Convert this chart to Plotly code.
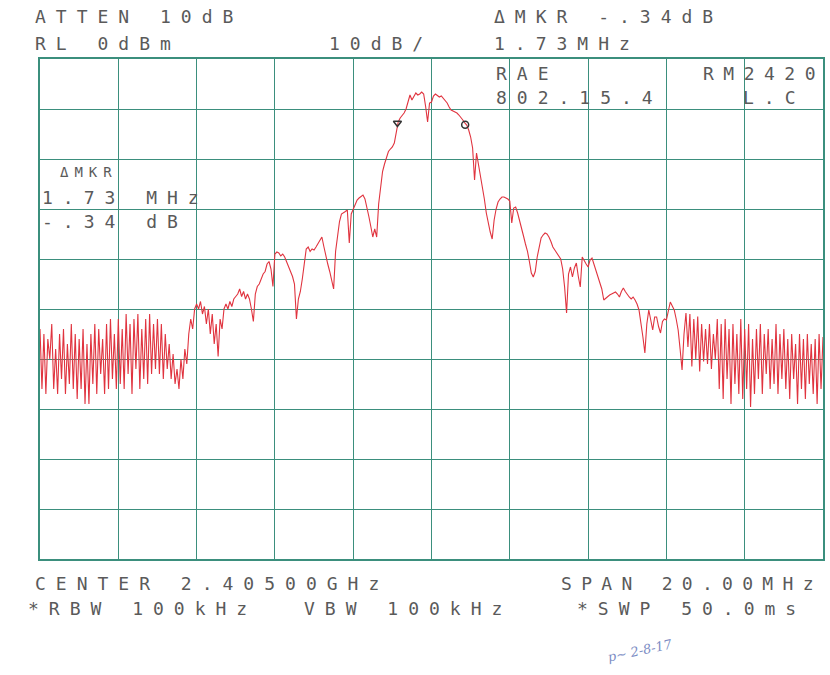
import numpy as np
import plotly.graph_objects as go

# ---------------- data ----------------
START_MHZ = 2395.0
STOP_MHZ = 2415.0
N_POINTS = 401  # analyzer sweep points

trace_dbm = [
    # 2395-2396 MHz
    -54, -66, -55, -67, -56, -60, -53, -66, -58, -67, -55, -64, -54, -67, -57, -65, -53, -66, -55, -68,
    # 2396-2397
    -56, -66, -54, -69, -57, -69, -55, -65, -53, -67, -54, -63, -56, -67, -53, -66, -52, -64, -55, -66,
    # 2397-2398
    -52, -65, -54, -66, -51, -63, -53, -67, -52, -62, -51, -66, -54, -64, -52, -65, -51, -63, -53, -62,
    # 2398-2399
    -52, -63, -53, -64, -55, -62, -57, -64, -59, -65, -62, -66, -60, -64, -58, -61, -55, -52, -54, -50,
    # 2399-2400
    -49, -50, -48.5, -51, -49.5, -53, -50, -55, -51, -57, -53, -59.5, -52, -54, -50, -49, -50, -48.5, -49.5, -48,
    # 2400-2401
    -47.5, -47, -46, -47.5, -46.5, -48, -47, -48, -50, -52.5, -47, -45.5, -45, -44, -43, -42.5, -41, -40.5, -42, -45.5,
    # 2401-2402
    -39, -38.6, -38.8, -39.4, -39, -39.6, -40.5, -41.5, -42.5, -43.5, -45, -52, -48, -46.5, -44, -40.5, -38, -37.6, -38.5, -38,
    # 2402-2403
    -38.2, -37.6, -37, -36.4, -35.6, -37.5, -39.5, -41, -42.5, -44, -46, -38.5, -35.5, -32.5, -31, -30.8, -30.5, -30.2, -36.8, -31,
    # 2403-2404
    -30, -29, -28.2, -27.8, -27.5, -27.2, -28, -29.5, -31.5, -33.5, -35.6, -34, -35.6, -29, -26, -22.5, -21, -19.5, -18.5, -18,
    # 2404-2405
    -17.6, -16.8, -14.5, -12.6, -11.8, -11.3, -10.8, -10, -8.8, -7.2, -8.2, -7.4, -6.8, -7.2, -7.0, -6.6, -7.0, -9.5, -12.6, -8.8,
    # 2405-2406
    -8.6, -7.4, -7.0, -7.3, -7.6, -7.4, -7.8, -8.2, -8.8, -9.6, -10.2, -10.4, -10.6, -10.8, -11.2, -11.6, -12.2, -12.8, -13.2, -14.2,
    # 2406-2407
    -15.6, -17.8, -24.2, -18.8, -21, -23.2, -25.6, -28, -30.8, -33, -34.6, -36, -32.2, -30, -28.6, -28, -27.6, -27.6, -27.8, -28,
    # 2407-2408
    -28.4, -32.8, -29.8, -29.6, -30.8, -32.2, -33.8, -35.4, -37, -38.4, -40.5, -42.8, -43.6, -42.5, -39.6, -37.5, -35.8, -35.2, -34.8, -35,
    # 2408-2409
    -35.6, -36.5, -37.6, -38.2, -38.8, -39.2, -40, -42, -45.6, -50.8, -43, -41.6, -43.6, -41.8, -40.8, -43.5, -45.6, -39.6, -40.4, -41,
    # 2409-2410
    -41.6, -40.2, -39.8, -41, -42.2, -43.2, -44.4, -46, -48.2, -47.8, -47.6, -47.2, -47, -46.8, -46.6, -47, -47.6, -46.5, -45.8, -46.5,
    # 2410-2411
    -47.2, -47.6, -48, -47.6, -48.2, -49, -50.2, -53.5, -55.6, -58.8, -53, -50.2, -52.5, -54.2, -51.6, -51.6, -53.5, -54.8, -52.5, -52,
    # 2411-2412
    -52.2, -50, -48.6, -49.4, -50.2, -52, -54.2, -58, -62.2, -55, -50.8, -57.6, -51, -61.5, -52, -60, -51.5, -62.5, -53, -60.5,
    # 2412-2413
    -54, -61, -53, -62, -55, -60, -52, -66, -53, -68, -52, -64, -54, -69, -53, -65, -55, -67, -52, -68,
    # 2413-2414
    -54, -66, -53, -69.6, -56, -67, -54, -64, -53, -67, -55, -63, -54, -66, -56, -65, -53, -67, -55, -64,
    # 2414-2415
    -54, -66, -56, -68, -55, -64, -57, -69, -55, -66, -56, -68, -55, -65, -57, -67, -56, -69, -55, -66,
    -55.6,
]

marker_mhz = [2404.13, 2405.86]
marker_dbm = [-12.8, -13.14]
marker_symbols = ["triangle-down-open", "circle-open"]

header_left = ["ATTEN 10dB", "RL 0dBm"]
scale_label = "10dB/"
header_right = ["\u0394MKR -.34dB", "1.73MHz"]
inset_left = ["RAE", "802.15.4"]
inset_right = ["RM2420", "L.C"]
delta_box = ["\u0394MKR", "1.73 MHz", "-.34 dB"]
footer = ["CENTER 2.40500GHz", "SPAN 20.00MHz", "*RBW 100kHz", "VBW 100kHz", "*SWP 50.0ms"]
signature = "p\u223c 2-8-17"

freq_mhz = np.linspace(START_MHZ, STOP_MHZ, N_POINTS)

# ---------------- figure ----------------
W, H = 830, 675
L, R, T, B = 40, 5, 59, 116
PW, PH = W - L - R, H - T - B

GRID = "#3b8f7d"
TEXT = "#5a5a5a"
FONT = "DejaVu Sans Mono"

fig = go.Figure()
fig.add_trace(go.Scatter(
    x=freq_mhz, y=trace_dbm, mode="lines",
    line=dict(color="#e0343f", width=1.1), hoverinfo="skip", showlegend=False,
))
fig.add_trace(go.Scatter(
    x=marker_mhz, y=marker_dbm, mode="markers",
    marker=dict(symbol=marker_symbols, size=7, color="#333333", line=dict(width=1.5, color="#333333")),
    showlegend=False, hoverinfo="skip",
))


def px2paper(px, py):
    return (px - L) / PW, (H - B - py) / PH


def label(text, px, py, anchor="left", size=18, ls=10, color=TEXT):
    x, y = px2paper(px, py)
    fig.add_annotation(
        x=x, y=y, xref="paper", yref="paper", xanchor=anchor, yanchor="middle",
        text=f'<span style="letter-spacing:{ls}px">{text}</span>',
        showarrow=False, font=dict(family=FONT, size=size, color=color),
    )


label(header_left[0], 33, 17)
label(header_left[1], 33, 44)
label(scale_label, 328, 44)
label(header_right[0], 493, 17)
label(header_right[1], 493, 44)
label(inset_left[0], 495, 73)
label(inset_left[1], 495, 98)
label(inset_right[0], 703, 73, ls=9.5)
label(inset_right[1], 743, 98)
label(delta_box[0], 58, 172, size=14, ls=6)
label(delta_box[1], 40, 197)
label(delta_box[2], 40, 222)
label(footer[0], 33, 583)
label(footer[1], 560, 583, ls=9.3)
label(footer[2], 26, 608)
label(footer[3], 303, 608)
label(footer[4], 576, 608)

sx, sy = px2paper(642, 650)
fig.add_annotation(x=sx, y=sy, xref="paper", yref="paper", text=f"<i>{signature}</i>",
                   showarrow=False, textangle=-12, xanchor="center", yanchor="middle",
                   font=dict(family="DejaVu Serif", size=13, color="#7c8cc4"))

fig.update_xaxes(range=[START_MHZ, STOP_MHZ], dtick=2, tick0=START_MHZ, showticklabels=False,
                 ticks="", showgrid=True, gridcolor=GRID, gridwidth=1.3, zeroline=False,
                 showline=True, linecolor=GRID, linewidth=1.5, mirror=True)
fig.update_yaxes(range=[-100, 0], dtick=10, showticklabels=False, ticks="", showgrid=True,
                 gridcolor=GRID, gridwidth=1.3, zeroline=False,
                 showline=True, linecolor=GRID, linewidth=1.5, mirror=True)

fig.update_layout(
    width=W, height=H, margin=dict(l=L, r=R, t=T, b=B),
    paper_bgcolor="white", plot_bgcolor="white",
)

fig.write_html("out.html")
